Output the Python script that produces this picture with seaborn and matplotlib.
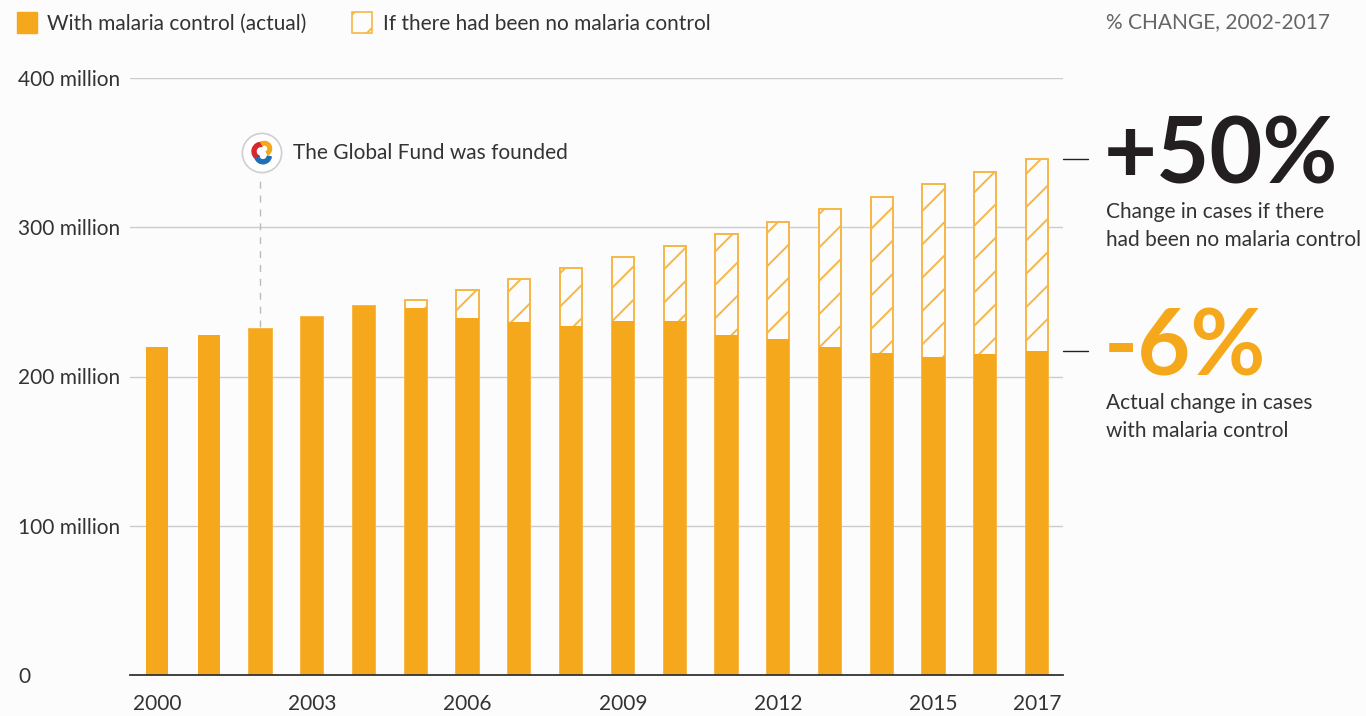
import matplotlib
matplotlib.use("Agg")
import matplotlib.pyplot as plt
import matplotlib.transforms as mtransforms
from matplotlib.patches import Patch, Circle, Wedge
import seaborn as sns
import pandas as pd
import numpy as np

# ---------------- data ----------------
years = [str(y) for y in range(2000, 2018)]
actual = [220, 228, 232, 240, 247, 246, 239, 236.5, 234, 237, 237, 228, 225, 220, 216, 213, 215, 217]
no_control = [None, None, 232, 240, 247, 251, 258, 265, 272.5, 280, 287.5, 295.5, 303.5, 312, 320, 329, 337, 346]
tick_years = ["2000", "2003", "2006", "2009", "2012", "2015", "2017"]
y_ticks = [0, 100, 200, 300, 400]
y_tick_labels = ["0", "100 million", "200 million", "300 million", "400 million"]
legend_labels = ["With malaria control (actual)", "If there had been no malaria control"]
change_no_control = "+50%"
change_actual = "-6%"

ORANGE = "#F6A81C"
ORANGE_LIGHT = "#F7B747"
BG = "#FCFCFC"
TEXT = "#333333"
FS = 15

sns.set_theme(style="white")
plt.rcParams["font.family"] = ["Lato", "DejaVu Sans"]
plt.rcParams["hatch.linewidth"] = 1.4
plt.rcParams["hatch.color"] = ORANGE_LIGHT

W, H = 1366, 716
fig = plt.figure(figsize=(W / 100, H / 100), dpi=100, facecolor=BG)
ax = fig.add_axes([130 / W, (H - 675) / H, (1063 - 130) / W, (675 - 78) / H])
ax.set_facecolor(BG)

df = pd.DataFrame({"year": years, "actual": actual,
                   "no_control": pd.to_numeric(pd.Series(no_control), errors="coerce")})

# counterfactual (hatched) bars behind
sns.barplot(data=df, x="year", y="no_control", order=years, ax=ax, width=0.43,
            fill=False, color=ORANGE_LIGHT, linewidth=1.4, errorbar=None, zorder=2)
for p in list(ax.patches):
    p.set_hatch("/")
    p.set_edgecolor(ORANGE_LIGHT)
    p.set_facecolor(BG)

# actual bars on top
sns.barplot(data=df, x="year", y="actual", order=years, ax=ax, width=0.43,
            color=ORANGE, saturation=1, linewidth=0, errorbar=None, zorder=3)

ax.set_xlim(-0.52, len(years) - 0.5)
ax.set_ylim(0, 400)
ax.set_xlabel("")
ax.set_ylabel("")

ax.set_yticks(y_ticks, y_tick_labels)
for lab in ax.get_yticklabels():
    lab.set_horizontalalignment("left")
ax.tick_params(axis="y", length=0, pad=112 * 0.72, labelsize=FS, labelcolor=TEXT)
ax.set_xticks([years.index(t) for t in tick_years], tick_years)
ax.tick_params(axis="x", length=0, pad=14, labelsize=FS, labelcolor=TEXT)

for v in y_ticks[1:]:
    ax.axhline(v, color="#cccccc", lw=1, zorder=1)
for s in ["top", "right", "left"]:
    ax.spines[s].set_visible(False)
ax.spines["bottom"].set_color("#333333")
ax.spines["bottom"].set_linewidth(1.3)
ax.spines["bottom"].set_zorder(4)

# right-side markers
blend = mtransforms.blended_transform_factory(ax.transAxes, ax.transData)
ax.plot([1.0, 1.027], [no_control[-1], no_control[-1]], color="#222222", lw=1, transform=blend, clip_on=False)
ax.plot([1.0, 1.027], [actual[-1], actual[-1]], color="#222222", lw=1, transform=blend, clip_on=False)

# Global Fund annotation
gf_i = years.index("2002")
ax.plot([gf_i, gf_i], [actual[gf_i] + 1, 335], color="#bbbbbb", lw=1, ls=(0, (5, 5)), zorder=1)
ax.text(gf_i + 0.63, 350, "The Global Fund was founded", fontsize=FS, color=TEXT, va="center", ha="left")
lx, ly, r = 262, 153, 21
lax = fig.add_axes([(lx - r) / W, (H - ly - r) / H, 2 * r / W, 2 * r / H])
lax.set_xlim(-1.05, 1.05)
lax.set_ylim(-1.05, 1.05)
lax.set_aspect("equal")
lax.axis("off")
lax.add_patch(Circle((0, 0), 0.98, facecolor="white", edgecolor="#cfcfcf", lw=1.2))
lax.add_patch(Wedge((-0.05, 0.08), 0.45, 80, 250, width=0.2, color="#D7262C"))
lax.add_patch(Wedge((0.12, 0.22), 0.36, -60, 120, width=0.18, color="#F6A81C"))
lax.add_patch(Wedge((0.05, -0.12), 0.42, 200, 350, width=0.2, color="#1F6FB7"))

# legend
handles = [Patch(facecolor=ORANGE, edgecolor=ORANGE),
           Patch(facecolor=BG, edgecolor=ORANGE_LIGHT, hatch="/", lw=1.2)]
fig.legend(handles, legend_labels, loc="upper left", bbox_to_anchor=(17 / W, 1 - 12 / H),
           ncol=2, frameon=False, fontsize=FS, handlelength=0.95, handleheight=1.2,
           handletextpad=0.5, columnspacing=2.2, borderpad=0, borderaxespad=0, labelcolor=TEXT)

# right-hand texts
fig.text(1106 / W, 1 - 22 / H, "% CHANGE, 2002-2017", fontsize=FS, color="#666666", va="center", ha="left")
fig.text(1104 / W, 1 - 157 / H, change_no_control, fontsize=66, fontweight="bold", color="#231F20",
         va="center", ha="left")
fig.text(1106 / W, 1 - 226 / H, "Change in cases if there\nhad been no malaria control", fontsize=FS,
         color=TEXT, va="center", ha="left", linespacing=1.5)
fig.text(1104 / W, 1 - 349 / H, change_actual, fontsize=66, fontweight="bold", color=ORANGE,
         va="center", ha="left")
fig.text(1106 / W, 1 - 417 / H, "Actual change in cases\nwith malaria control", fontsize=FS,
         color=TEXT, va="center", ha="left", linespacing=1.5)

fig.savefig("out.png", dpi=100, facecolor=BG)
